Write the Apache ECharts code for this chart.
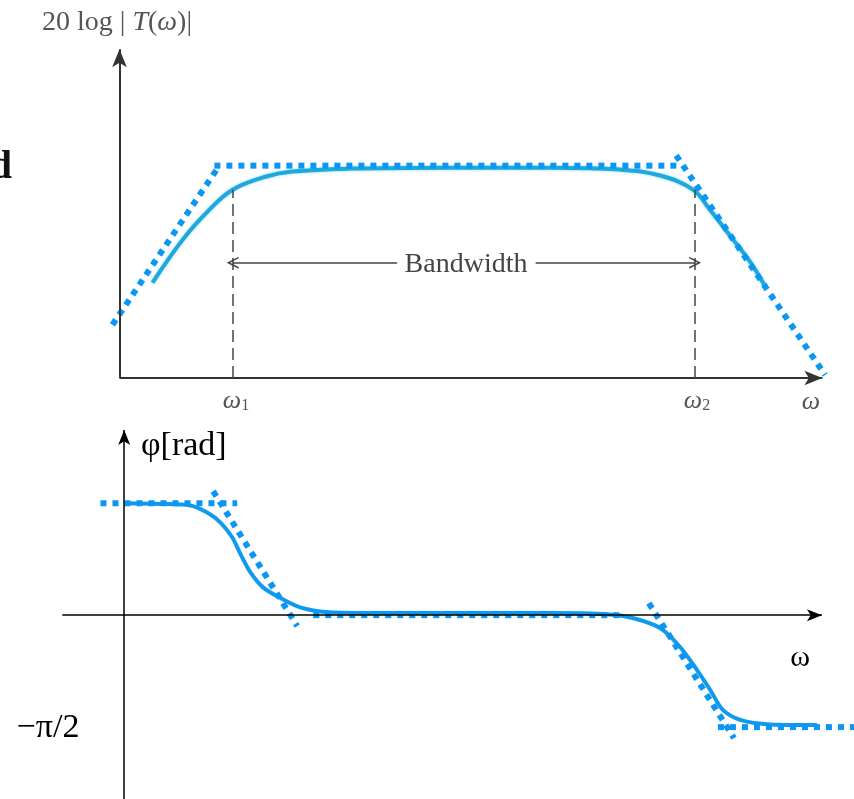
<!DOCTYPE html>
<html>
<head>
<meta charset="utf-8">
<script src="https://cdn.jsdelivr.net/npm/echarts@6/dist/echarts.min.js"></script>
<style>
  html, body { margin: 0; padding: 0; background: #fff; }
  #main { width: 854px; height: 799px; }
</style>
</head>
<body>
<div id="main"></div>
<script>
// magnitude plot (top): frequency units, axis drawn 0..10, dB units 0..10
var magX = [0.47, 0.90, 1.28, 1.61, 2.09, 2.46, 3.28, 4.70, 6.13, 7.12, 7.69, 8.16, 8.40, 8.73, 8.97, 9.19];
var magY = [2.90, 4.21, 5.12, 5.73, 6.13, 6.28, 6.37, 6.40, 6.40, 6.34, 6.16, 5.73, 5.12, 4.21, 3.54, 2.77];
var magAsymLeft = [[-0.10, 1.62], [1.42, 6.46]];
var magAsymFlat = [[1.35, 6.46], [7.98, 6.46]];
var magAsymRight = [[7.92, 6.77], [10.04, 0.09]];
var magAxisX = [0, 10];
var magAxisY = [0, 10];
var cutoffs = [1.61, 8.19];     // omega1, omega2
var cutoffLevel = 5.73;
var bwLevel = 3.51;
var bwGap = [3.95, 5.92];        // where the "Bandwidth" text sits

// phase plot (bottom): phase in rad
var phX = [0.01, 0.52, 0.95, 1.19, 1.38, 1.55, 1.66, 1.81, 1.99, 2.24, 2.52, 2.95, 3.60, 4.67, 6.10, 6.96,
           7.29, 7.68, 7.97, 8.21, 8.40, 8.58, 8.83, 9.21, 9.93];
var phY = [1.571, 1.562, 1.54, 1.44, 1.30, 1.09, 0.87, 0.60, 0.39, 0.24, 0.11, 0.04, 0.03, 0.03, 0.03, 0.01,
           -0.04, -0.18, -0.45, -0.77, -1.05, -1.33, -1.47, -1.53, -1.543];
var phAsymTop = [[-0.34, 1.571], [1.62, 1.571]];
var phAsymDrop1 = [[1.275, 1.74], [2.48, -0.154]];
var phAsymMid = [[2.71, 0], [7.18, 0]];
var phAsymDrop2 = [[7.52, 0.168], [8.74, -1.725]];
var phAsymBottom = [[8.51, -1.571], [10.46, -1.571]];
var phAxisX = [-0.888, 10];
var phAxisY = [-2.58, 2.6];

var dotColor = '#0a96f5';
var serif = '"Liberation Serif", "DejaVu Serif", serif';

function zip(xs, ys) {
  return xs.map(function (x, i) { return [x, ys[i]]; });
}

function dotted(data, gi) {
  return {
    type: 'line', xAxisIndex: gi, yAxisIndex: gi, data: data,
    showSymbol: false, clip: false, silent: true, z: 3,
    lineStyle: { color: dotColor, width: 6, type: [6, 6], cap: 'butt' }
  };
}

function hiddenAxis(gi, min, max) {
  return {
    type: 'value', gridIndex: gi, min: min, max: max,
    axisLine: { show: false },
    splitLine: { show: false },
    axisTick: { show: false },
    axisLabel: { show: false }
  };
}

// axes drawn as arrow lines through the library scales
function axisArrows(gi, ax, ay, color, width, size) {
  return {
    type: 'line', xAxisIndex: gi, yAxisIndex: gi, data: [], clip: false,
    markLine: {
      silent: true, animation: false, label: { show: false },
      symbol: ['none', 'arrow'], symbolSize: size,
      lineStyle: { color: color, width: width, type: 'solid' },
      data: [
        [{ coord: [ax[0], 0] }, { coord: [ax[1], 0] }],
        [{ coord: [0, ay[0]] }, { coord: [0, ay[1]] }]
      ]
    }
  };
}

var chevron = 'path://M5,0 L10,10 L8.6,10 L5,3 L1.4,10 L0,10 Z';

var myChart = echarts.init(document.getElementById('main'));
myChart.setOption({
  animation: false,
  grid: [
    { left: 0, top: 0, right: 0, height: 378 },
    { left: 0, top: 400, right: 0, bottom: 0 }
  ],
  xAxis: [hiddenAxis(0, -1.7, 10.45), hiddenAxis(1, -1.78, 10.46)],
  yAxis: [hiddenAxis(0, 0, 11.5), hiddenAxis(1, -2.58, 3.02)],
  series: [
    axisArrows(0, magAxisX, magAxisY, '#333', 2, [11, 18]),
    axisArrows(1, phAxisX, phAxisY, '#000', 1.5, [9, 15]),
    // top: magnitude curve
    {
      type: 'line', xAxisIndex: 0, yAxisIndex: 0, data: zip(magX, magY),
      smooth: 0.4, showSymbol: false, silent: true, z: 2, clip: false,
      lineStyle: { color: '#1fa8dc', width: 4, shadowColor: 'rgba(60,190,240,0.6)', shadowBlur: 3 },
      markLine: {
        silent: true, animation: false, label: { show: false },
        symbol: ['none', 'none'],
        lineStyle: { color: '#444', width: 1.5, type: [12, 6] },
        data: [
          [{ coord: [cutoffs[0], 0] }, { coord: [cutoffs[0], cutoffLevel] }],
          [{ coord: [cutoffs[1], 0] }, { coord: [cutoffs[1], cutoffLevel] }]
        ]
      }
    },
    {
      type: 'line', xAxisIndex: 0, yAxisIndex: 0, data: [], clip: false,
      markLine: {
        silent: true, animation: false, label: { show: false },
        symbol: [chevron, 'none'], symbolSize: [12, 12],
        lineStyle: { color: '#444', width: 1.5, type: 'solid' },
        data: [
          [{ coord: [cutoffs[0], bwLevel] }, { coord: [bwGap[0], bwLevel] }],
          [{ coord: [cutoffs[1], bwLevel] }, { coord: [bwGap[1], bwLevel] }]
        ]
      }
    },
    dotted(magAsymLeft, 0),
    dotted(magAsymFlat, 0),
    dotted(magAsymRight, 0),
    // bottom: phase curve
    {
      type: 'line', xAxisIndex: 1, yAxisIndex: 1, data: zip(phX, phY),
      smooth: 0.3, showSymbol: false, silent: true, z: 2, clip: false,
      lineStyle: { color: '#0f9af0', width: 4 }
    },
    dotted(phAsymTop, 1),
    dotted(phAsymDrop1, 1),
    dotted(phAsymMid, 1),
    dotted(phAsymDrop2, 1),
    dotted(phAsymBottom, 1)
  ],
  graphic: [
    { type: 'text', left: 42, top: 9, style: {
      text: '{n|20 log | }{i|T}{n|(}{i|ω}{n|)|}',
      rich: {
        n: { fontFamily: serif, fontSize: 28, fill: '#555' },
        i: { fontFamily: serif, fontSize: 28, fontStyle: 'italic', fill: '#555' }
      } } },
    { type: 'text', x: 12, y: 168, style: { text: 'd', fontFamily: serif, fontWeight: 'bold',
      fontSize: 40, fill: '#111', align: 'right', verticalAlign: 'middle' } },
    { type: 'text', x: 466, y: 265, style: { text: 'Bandwidth', fontFamily: serif,
      fontSize: 28, fill: '#444', align: 'center', verticalAlign: 'middle' } },
    { type: 'text', x: 236, y: 401, style: {
      text: '{w|ω}{s|1}', align: 'center', verticalAlign: 'middle',
      rich: {
        w: { fontFamily: serif, fontSize: 26, fontStyle: 'italic', fill: '#555' },
        s: { fontFamily: serif, fontSize: 16, fill: '#555', padding: [10, 0, 0, 0] }
      } } },
    { type: 'text', x: 697, y: 401, style: {
      text: '{w|ω}{s|2}', align: 'center', verticalAlign: 'middle',
      rich: {
        w: { fontFamily: serif, fontSize: 26, fontStyle: 'italic', fill: '#555' },
        s: { fontFamily: serif, fontSize: 16, fill: '#555', padding: [10, 0, 0, 0] }
      } } },
    { type: 'text', x: 811, y: 402, style: { text: 'ω', fontFamily: serif, fontStyle: 'italic',
      fontSize: 26, fill: '#555', align: 'center', verticalAlign: 'middle' } },
    { type: 'text', x: 141, y: 446, style: { text: 'φ[rad]', fontFamily: serif,
      fontSize: 34, fill: '#000', align: 'left', verticalAlign: 'middle' } },
    { type: 'text', x: 800, y: 658, style: { text: 'ω', fontFamily: serif,
      fontSize: 30, fill: '#000', align: 'center', verticalAlign: 'middle' } },
    { type: 'text', x: 48, y: 728, style: { text: '−π/2', fontFamily: serif,
      fontSize: 34, fill: '#000', align: 'center', verticalAlign: 'middle' } }
  ]
});
</script>
</body>
</html>
